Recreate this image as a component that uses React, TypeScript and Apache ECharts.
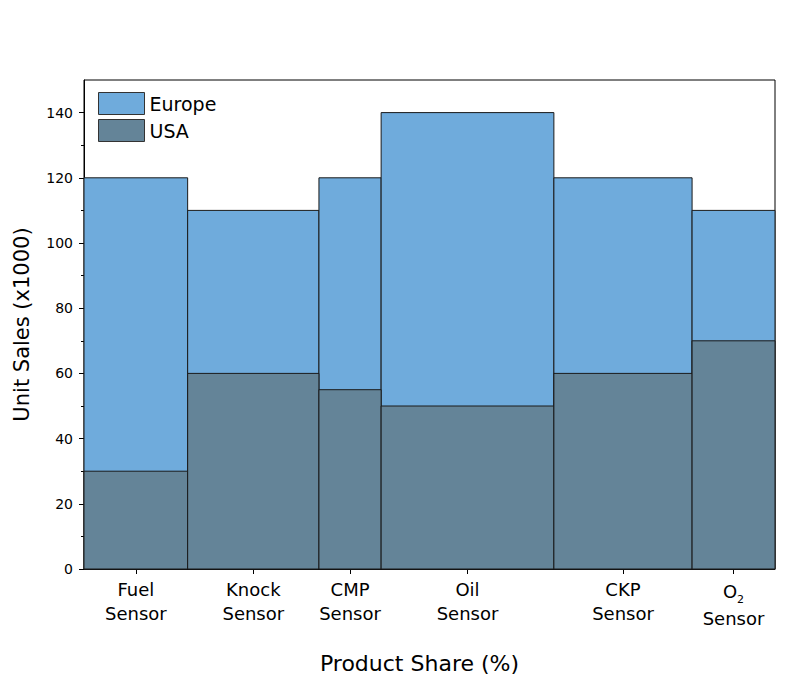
import React, { useEffect, useRef } from "react";
import * as echarts from "echarts";

const categories = ["Fuel\nSensor", "Knock\nSensor", "CMP\nSensor", "Oil\nSensor", "CKP\nSensor", "O2\nSensor"];
const shares = [15, 19, 9, 25, 20, 12];
const europe = [120, 110, 120, 140, 120, 110];
const usa = [30, 60, 55, 50, 60, 70];
const yTicks = [0, 20, 40, 60, 80, 100, 120, 140];

const FONT = "DejaVu Sans";
const EU_COLOR = "#6FABDC";
const US_COLOR = "#648498";

export default function App() {
  const ref = useRef<HTMLDivElement>(null);
  useEffect(() => {
    if (!ref.current) return;
    const chart = echarts.init(ref.current, undefined, { renderer: "svg" });
    const starts: number[] = [];
    let acc = 0;
    shares.forEach((s) => {
      starts.push(acc);
      acc += s;
    });
    const centers = shares.map((s, i) => starts[i] + s / 2);
    const mk = (vals: number[]) => vals.map((v, i) => [starts[i], starts[i] + shares[i], v, i]);
    const renderItem = (color: string) => (params: any, api: any) => {
      const x0 = api.value(0);
      const x1 = api.value(1);
      const v = api.value(2);
      const p0 = api.coord([x0, v]);
      const p1 = api.coord([x1, 0]);
      return {
        type: "rect",
        shape: { x: p0[0], y: p0[1], width: p1[0] - p0[0], height: p1[1] - p0[1] },
        style: { fill: color, stroke: "#1a1a1a", lineWidth: 1 },
      };
    };
    const labelFor = (val: number) => {
      const idx = centers.findIndex((c) => Math.abs(c - val) < 1e-6);
      if (idx < 0) return "";
      const c = categories[idx];
      if (c.startsWith("O2")) return "{a|O}{sub|2}\n{b|Sensor}";
      return c
        .split("\n")
        .map((l) => "{a|" + l + "}")
        .join("\n");
    };
    chart.setOption({
      animation: false,
      grid: {
        left: 76,
        right: 33,
        top: 72,
        bottom: 137,
        outerBoundsMode: "none",
        containLabel: false,
        show: true,
        borderColor: "#000",
        borderWidth: 1,
        backgroundColor: "transparent",
      },
      legend: {
        left: 85,
        top: 79,
        orient: "vertical",
        icon: "rect",
        itemWidth: 46,
        itemHeight: 22,
        itemGap: 4,
        textStyle: { fontFamily: FONT, fontSize: 19, color: "#000" },
        itemStyle: { borderColor: "#333", borderWidth: 1 },
        data: [
          { name: "Europe", itemStyle: { color: EU_COLOR } },
          { name: "USA", itemStyle: { color: US_COLOR } },
        ],
      },
      xAxis: {
        type: "value",
        min: 0,
        max: 100,
        name: "Product Share (%)",
        nameLocation: "middle",
        nameGap: 83,
        nameTextStyle: { fontFamily: FONT, fontSize: 22, color: "#000", padding: [0, 20, 0, 0] },
        splitLine: { show: false },
        axisLine: { show: true, lineStyle: { color: "#000" } },
        axisTick: { show: true, inside: false, length: 5, customValues: centers, lineStyle: { color: "#000" } },
        axisLabel: {
          show: true,
          customValues: centers,
          margin: 8,
          formatter: labelFor,
          rich: {
            a: { fontFamily: FONT, fontSize: 18, color: "#000", lineHeight: 24, align: "center" },
            b: { fontFamily: FONT, fontSize: 18, color: "#000", lineHeight: 26, align: "center" },
            sub: { fontFamily: FONT, fontSize: 11, color: "#000", verticalAlign: "bottom", lineHeight: 28, padding: [9, 0, 0, 0] },
          },
        },
      },
      yAxis: {
        type: "value",
        min: 0,
        max: 150,
        interval: 20,
        name: "Unit Sales (x1000)",
        nameLocation: "middle",
        nameGap: 52,
        nameTextStyle: { fontFamily: FONT, fontSize: 21, color: "#000" },
        splitLine: { show: false },
        axisLine: { show: true, lineStyle: { color: "#000" } },
        axisTick: { show: true, inside: false, length: 5, customValues: yTicks, lineStyle: { color: "#000" } },
        minorTick: { show: true, splitNumber: 2, length: 3, lineStyle: { color: "#000" } },
        axisLabel: {
          customValues: yTicks,
          fontFamily: FONT,
          fontSize: 14,
          color: "#000",
          margin: 11,
        },
      },
      series: [
        {
          name: "Europe",
          type: "custom",
          itemStyle: { color: EU_COLOR },
          renderItem: renderItem(EU_COLOR),
          encode: { x: [0, 1], y: 2 },
          data: mk(europe),
        },
        {
          name: "USA",
          type: "custom",
          itemStyle: { color: US_COLOR },
          renderItem: renderItem(US_COLOR),
          encode: { x: [0, 1], y: 2 },
          data: mk(usa),
        },
      ],
    });
    return () => chart.dispose();
  }, []);
  return <div ref={ref} style={{ width: 800, height: 698 }} />;
}
